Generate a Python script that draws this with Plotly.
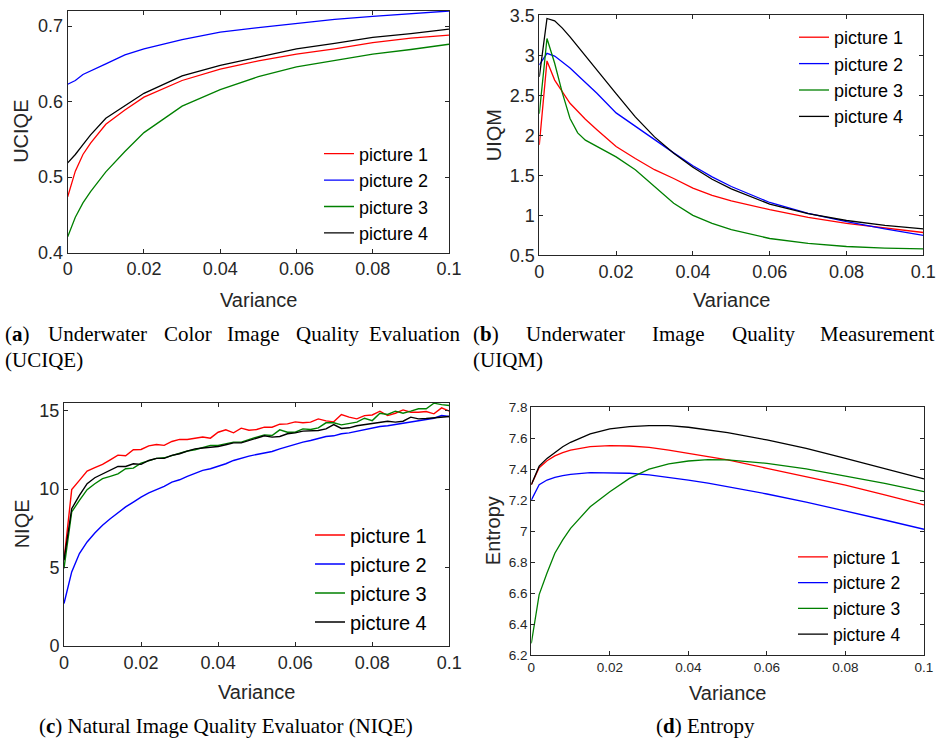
import plotly.graph_objects as go

W, H = 941, 742

series_names = ["picture 1", "picture 2", "picture 3", "picture 4"]
series_colors = ["#FF0000", "#0000FF", "#008000", "#000000"]

# (a) UCIQE
x_a = [0, 0.002, 0.004, 0.006, 0.01, 0.015, 0.02, 0.03, 0.04, 0.05, 0.06, 0.07, 0.08, 0.09, 0.1]
uciqe_p1 = [0.474, 0.508, 0.530, 0.545, 0.570, 0.589, 0.606, 0.628, 0.643, 0.654, 0.663, 0.670, 0.678, 0.684, 0.688]
uciqe_p2 = [0.623, 0.628, 0.636, 0.641, 0.650, 0.662, 0.670, 0.682, 0.692, 0.698, 0.703, 0.709, 0.713, 0.716, 0.720]
uciqe_p3 = [0.421, 0.447, 0.466, 0.481, 0.507, 0.534, 0.559, 0.594, 0.616, 0.633, 0.646, 0.655, 0.663, 0.669, 0.676]
uciqe_p4 = [0.519, 0.530, 0.543, 0.556, 0.578, 0.595, 0.611, 0.634, 0.648, 0.659, 0.670, 0.677, 0.685, 0.690, 0.696]

# (b) UIQM
x_b = [0, 0.002, 0.004, 0.006, 0.008, 0.01, 0.012, 0.015, 0.02, 0.025, 0.03, 0.035, 0.04, 0.045, 0.05, 0.06, 0.07, 0.08, 0.09, 0.1]
uiqm_p1 = [1.88, 2.93, 2.69, 2.55, 2.40, 2.30, 2.20, 2.07, 1.86, 1.71, 1.57, 1.46, 1.34, 1.25, 1.18, 1.07, 0.975, 0.90, 0.845, 0.785]
uiqm_p2 = [2.88, 3.025, 2.99, 2.92, 2.84, 2.75, 2.66, 2.525, 2.28, 2.11, 1.94, 1.78, 1.62, 1.48, 1.36, 1.16, 1.025, 0.92, 0.83, 0.75]
uiqm_p3 = [2.27, 3.21, 2.90, 2.53, 2.21, 2.03, 1.94, 1.86, 1.73, 1.57, 1.36, 1.15, 1.00, 0.90, 0.82, 0.71, 0.65, 0.61, 0.59, 0.58]
uiqm_p4 = [2.73, 3.46, 3.43, 3.34, 3.23, 3.11, 2.99, 2.82, 2.52, 2.23, 1.98, 1.775, 1.60, 1.45, 1.33, 1.14, 1.02, 0.935, 0.875, 0.83]

# (c) NIQE
x_c = [0.000, 0.002, 0.004, 0.006, 0.008, 0.010, 0.012, 0.014, 0.016, 0.018,
       0.020, 0.022, 0.024, 0.026, 0.028, 0.030, 0.032, 0.034, 0.036, 0.038,
       0.040, 0.042, 0.044, 0.046, 0.048, 0.050, 0.052, 0.054, 0.056, 0.058,
       0.060, 0.062, 0.064, 0.066, 0.068, 0.070, 0.072, 0.074, 0.076, 0.078,
       0.080, 0.082, 0.084, 0.086, 0.088, 0.090, 0.092, 0.094, 0.096, 0.098, 0.100]
niqe_p1 = [5.47, 9.96, 10.55, 11.14, 11.36, 11.57, 11.86, 12.16, 12.12, 12.50,
           12.52, 12.75, 12.84, 12.78, 13.03, 13.16, 13.16, 13.24, 13.31, 13.24,
           13.62, 13.77, 13.58, 13.88, 13.75, 13.79, 13.94, 13.94, 14.13, 14.15,
           14.28, 14.22, 14.26, 14.47, 14.34, 14.28, 14.75, 14.58, 14.47, 14.68,
           14.72, 14.96, 14.68, 14.83, 15.04, 14.89, 14.89, 14.94, 14.79, 15.17, 14.96]
niqe_p2 = [2.71, 4.72, 5.89, 6.63, 7.20, 7.69, 8.11, 8.50, 8.86, 9.17,
           9.49, 9.75, 9.96, 10.17, 10.44, 10.59, 10.81, 11.02, 11.19, 11.29,
           11.44, 11.61, 11.82, 11.97, 12.10, 12.20, 12.31, 12.39, 12.56, 12.71,
           12.88, 12.99, 13.09, 13.24, 13.35, 13.39, 13.52, 13.58, 13.69, 13.77,
           13.90, 13.98, 14.03, 14.11, 14.19, 14.26, 14.36, 14.43, 14.51, 14.68, 14.62]
niqe_p3 = [4.94, 8.54, 9.28, 9.96, 10.34, 10.66, 10.81, 10.97, 11.29, 11.33,
           11.65, 11.78, 11.95, 11.99, 12.12, 12.25, 12.42, 12.50, 12.63, 12.78,
           12.78, 12.88, 12.99, 12.99, 13.16, 13.31, 13.45, 13.41, 13.77, 13.62,
           13.62, 13.83, 13.79, 13.90, 14.22, 14.22, 14.09, 14.19, 14.26, 14.51,
           14.36, 14.83, 14.75, 14.96, 14.83, 14.96, 15.11, 15.11, 15.47, 15.38, 15.32]
niqe_p4 = [5.47, 8.75, 9.60, 10.34, 10.72, 10.97, 11.19, 11.44, 11.44, 11.61,
           11.57, 11.82, 11.95, 11.95, 12.14, 12.25, 12.42, 12.56, 12.61, 12.67,
           12.71, 12.82, 12.94, 12.94, 13.09, 13.24, 13.39, 13.31, 13.35, 13.52,
           13.58, 13.69, 13.73, 13.73, 13.83, 14.11, 13.86, 13.90, 14.03, 14.11,
           14.15, 14.26, 14.32, 14.26, 14.32, 14.58, 14.47, 14.49, 14.53, 14.58, 14.62]

# (d) Entropy
x_d = [0, 0.002, 0.004, 0.006, 0.008, 0.01, 0.015, 0.02, 0.025, 0.03, 0.035, 0.04, 0.045, 0.05, 0.06, 0.07, 0.08, 0.09, 0.1]
ent_p1 = [7.30, 7.41, 7.455, 7.486, 7.507, 7.524, 7.546, 7.552, 7.550, 7.541, 7.524, 7.503, 7.482, 7.460, 7.406, 7.352, 7.298, 7.234, 7.169]
ent_p2 = [7.20, 7.30, 7.330, 7.348, 7.359, 7.367, 7.378, 7.378, 7.374, 7.363, 7.348, 7.330, 7.310, 7.287, 7.240, 7.188, 7.132, 7.072, 7.012]
ent_p3 = [6.275, 6.59, 6.73, 6.857, 6.943, 7.018, 7.158, 7.255, 7.341, 7.400, 7.434, 7.453, 7.462, 7.460, 7.438, 7.402, 7.356, 7.309, 7.255]
ent_p4 = [7.30, 7.42, 7.47, 7.510, 7.545, 7.574, 7.628, 7.660, 7.675, 7.681, 7.681, 7.671, 7.655, 7.636, 7.589, 7.535, 7.470, 7.406, 7.337]

# ticks
x_tickvals = [0, 0.02, 0.04, 0.06, 0.08, 0.1]
x_ticktext = ["0", "0.02", "0.04", "0.06", "0.08", "0.1"]
ya_tickvals = [0.4, 0.5, 0.6, 0.7]
ya_ticktext = ["0.4", "0.5", "0.6", "0.7"]
yb_tickvals = [0.5, 1, 1.5, 2, 2.5, 3, 3.5]
yb_ticktext = ["0.5", "1", "1.5", "2", "2.5", "3", "3.5"]
yc_tickvals = [0, 5, 10, 15]
yc_ticktext = ["0", "5", "10", "15"]
yd_tickvals = [6.2, 6.4, 6.6, 6.8, 7.0, 7.2, 7.4, 7.6, 7.8]
yd_ticktext = ["6.2", "6.4", "6.6", "6.8", "7", "7.2", "7.4", "7.6", "7.8"]

panels = [
    dict(x=x_a, ys=[uciqe_p1, uciqe_p2, uciqe_p3, uciqe_p4], ylabel="UCIQE",
         yr=[0.4, 0.72], ytv=ya_tickvals, ytt=ya_ticktext,
         px=(67.7, 449.0), py=(11.0, 252.7), tf=18, lf=18, lw=1.3,
         leg=(319, 193.5), ylab_x=21, xlab_y=300),
    dict(x=x_b, ys=[uiqm_p1, uiqm_p2, uiqm_p3, uiqm_p4], ylabel="UIQM",
         yr=[0.5, 3.5], ytv=yb_tickvals, ytt=yb_ticktext,
         px=(539.3, 923.3), py=(15.3, 255.3), tf=18, lf=18, lw=1.3,
         leg=(794, 77), ylab_x=494, xlab_y=300),
    dict(x=x_c, ys=[niqe_p1, niqe_p2, niqe_p3, niqe_p4], ylabel="NIQE",
         yr=[0, 15.5], ytv=yc_tickvals, ytt=yc_ticktext,
         px=(64.0, 449.3), py=(402.7, 646.0), tf=18, lf=20, lw=1.4,
         leg=(310, 578.5), ylab_x=22, xlab_y=692),
    dict(x=x_d, ys=[ent_p1, ent_p2, ent_p3, ent_p4], ylabel="Entropy",
         yr=[6.2, 7.8], ytv=yd_tickvals, ytt=yd_ticktext,
         px=(531.3, 924.0), py=(407.3, 655.0), tf=13.5, lf=17.5, lw=1.3,
         leg=(793, 595.5), ylab_x=493, xlab_y=693),
]

AX_COLOR = "#262626"
FONT = "Liberation Sans, Arial, sans-serif"

fig = go.Figure()
layout = dict(width=W, height=H, margin=dict(l=0, r=0, t=0, b=0, autoexpand=False),
              paper_bgcolor="white", plot_bgcolor="white", showlegend=True,
              annotations=[])

for i, p in enumerate(panels):
    k = "" if i == 0 else str(i + 1)
    legname = "legend" if i == 0 else "legend" + str(i + 1)
    for name, col, yv in zip(series_names, series_colors, p["ys"]):
        fig.add_trace(go.Scatter(x=p["x"], y=yv, mode="lines", name=name,
                                 line=dict(color=col, width=p["lw"]),
                                 xaxis="x" + k, yaxis="y" + k, legend=legname))
    x0, x1 = p["px"]
    y0, y1 = p["py"]
    common = dict(showline=True, mirror="ticks", ticks="inside", ticklen=4,
                  tickcolor=AX_COLOR, linecolor=AX_COLOR, linewidth=1,
                  showgrid=False, zeroline=False, automargin=False,
                  tickfont=dict(family=FONT, size=p["tf"], color=AX_COLOR))
    layout["xaxis" + k] = dict(common, domain=[x0 / W, x1 / W], range=[0, 0.1],
                               tickvals=x_tickvals, ticktext=x_ticktext,
                               anchor="y" + k)
    layout["yaxis" + k] = dict(common, domain=[1 - y1 / H, 1 - y0 / H], range=p["yr"],
                               tickvals=p["ytv"], ticktext=p["ytt"],
                               anchor="x" + k)
    layout[legname] = dict(x=p["leg"][0] / W, y=1 - p["leg"][1] / H,
                           xanchor="left", yanchor="middle",
                           bgcolor="rgba(0,0,0,0)", borderwidth=0,
                           font=dict(family=FONT, size=p["lf"], color="#000000"),
                           tracegroupgap=0)
    layout["annotations"].append(dict(
        text="Variance", x=(x0 + x1) / 2 / W, y=1 - p["xlab_y"] / H,
        xref="paper", yref="paper", showarrow=False, xanchor="center", yanchor="middle",
        font=dict(family=FONT, size=20, color=AX_COLOR)))
    layout["annotations"].append(dict(
        text=p["ylabel"], x=p["ylab_x"] / W, y=1 - (y0 + y1) / 2 / H, textangle=-90,
        xref="paper", yref="paper", showarrow=False, xanchor="center", yanchor="middle",
        font=dict(family=FONT, size=20, color=AX_COLOR)))

SERIF = "Liberation Serif, Times New Roman, serif"
# (text, x, y, anchor) -- justified first lines are emulated word by word
captions = [
    ("(<b>a</b>)", 3, 334, "left"),
    ("Underwater", 97, 334, "center"),
    ("Color", 188, 334, "center"),
    ("Image", 253, 334, "center"),
    ("Quality", 327, 334, "center"),
    ("Evaluation", 462, 334, "right"),
    ("(UCIQE)", 3, 360, "left"),
    ("(<b>b</b>)", 471, 334, "left"),
    ("Underwater", 575, 334, "center"),
    ("Image", 678, 334, "center"),
    ("Quality", 763, 334, "center"),
    ("Measurement", 936, 334, "right"),
    ("(UIQM)", 471, 360, "left"),
    ("(<b>c</b>) Natural Image Quality Evaluator (NIQE)", 226, 726, "center"),
    ("(<b>d</b>) Entropy", 705, 726, "center"),
]
for txt, cx, cy, anc in captions:
    layout["annotations"].append(dict(
        text=txt, x=cx / W, y=1 - cy / H, xref="paper", yref="paper",
        showarrow=False, xanchor=anc, yanchor="middle",
        font=dict(family=SERIF, size=21, color="#000000")))

fig.update_layout(**layout)
fig.write_html("out.html", config={"displayModeBar": False},
               post_script="document.body.style.margin='0';document.body.style.overflow='hidden';")
